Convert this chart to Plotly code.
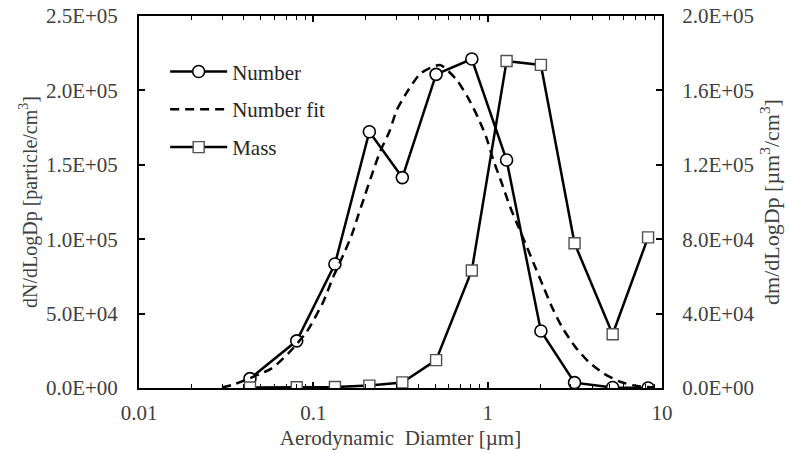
import plotly.graph_objects as go

# Stage mid-point diameters (µm)
diameters = [0.0433, 0.0803, 0.133, 0.2096, 0.324, 0.506, 0.811, 1.284, 2.02, 3.15, 5.21, 8.32]

# Number concentration dN/dLogDp [particle/cm3]
number = [6.3e3, 3.17e4, 8.33e4, 1.722e5, 1.414e5, 2.108e5, 2.211e5, 1.532e5, 3.83e4, 3.6e3, 300, 0]

# Mass concentration dm/dLogDp [µm3/cm3]
mass = [300, 400, 500, 1.3e3, 3.0e3, 1.5e4, 6.32e4, 1.758e5, 1.737e5, 7.78e4, 2.89e4, 8.1e4]

# Log-normal fit of the number distribution
fit_dp = [0.0299, 0.0346, 0.0577, 0.0719, 0.0917, 0.1141, 0.1302, 0.1486, 0.1661, 0.1812,
          0.198, 0.2163, 0.2414, 0.2729, 0.301, 0.3508, 0.4132, 0.5332, 0.6648, 0.775,
          0.8843, 0.979, 1.078, 1.205, 1.344, 1.5, 1.676, 1.87, 2.087, 2.333, 2.661,
          3.172, 3.782, 4.61, 5.75, 7.17, 8.93]
fit_n = [300, 2.2e3, 1.32e4, 2.33e4, 3.78e4, 5.8e4, 7.48e4, 8.94e4, 1.028e5, 1.163e5,
         1.297e5, 1.431e5, 1.588e5, 1.722e5, 1.868e5, 2.003e5, 2.115e5, 2.171e5, 2.07e5, 1.947e5,
         1.813e5, 1.689e5, 1.532e5, 1.376e5, 1.218e5, 1.084e5, 9.5e4, 8.15e4, 6.81e4, 5.46e4, 4.12e4,
         2.78e4, 1.77e4, 9.9e3, 4.2e3, 1.3e3, 500]

# Axis ticks
x_ticks = [0.01, 0.1, 1, 10]
x_tick_text = ["0.01", "0.1", "1", "10"]
x_minor = [m * d for d in (0.01, 0.1, 1) for m in range(2, 10)]
y_ticks = [0, 5e4, 1e5, 1.5e5, 2e5, 2.5e5]
y_tick_text = ["0.0E+00", "5.0E+04", "1.0E+05", "1.5E+05", "2.0E+05", "2.5E+05"]
y2_ticks = [0, 4e4, 8e4, 1.2e5, 1.6e5, 2e5]
y2_tick_text = ["0.0E+00", "4.0E+04", "8.0E+04", "1.2E+05", "1.6E+05", "2.0E+05"]

FONT = "Liberation Serif, Times New Roman, serif"
TXT = "#404040"
FS = 21

fig = go.Figure()

fig.add_trace(go.Scatter(
    x=diameters, y=number, name="Number", mode="lines+markers",
    legendgroup="a",
    line=dict(color="black", width=2.5),
    marker=dict(symbol="circle", size=12, color="white", line=dict(color="black", width=1.6)),
))
fig.add_trace(go.Scatter(
    x=fit_dp, y=fit_n, name="Number fit", mode="lines",
    legendgroup="b",
    line=dict(color="black", width=2.5, dash="9px,6px", shape="spline", smoothing=0.6),
))
fig.add_trace(go.Scatter(
    x=diameters, y=mass, name="Mass", mode="lines+markers", yaxis="y2",
    legendgroup="c",
    line=dict(color="black", width=2.5),
    marker=dict(symbol="square", size=11, color="white", line=dict(color="#505050", width=1.4)),
))

fig.update_layout(
    width=790, height=453,
    margin=dict(l=139, r=128, t=16, b=65),
    paper_bgcolor="white", plot_bgcolor="white",
    font=dict(family=FONT, size=FS, color=TXT),
    showlegend=True,
    legend=dict(
        x=0.050, y=0.905, xanchor="left", yanchor="top",
        bgcolor="rgba(0,0,0,0)", itemwidth=57, tracegroupgap=7.5,
        font=dict(family=FONT, size=FS, color="#262626"),
    ),
    xaxis=dict(
        type="log", range=[-2, 1], automargin=False,
        tickmode="array", tickvals=x_ticks, ticktext=x_tick_text,
        ticks="inside", ticklen=6, tickwidth=1.5, tickcolor="black",
        minor=dict(tickmode="array", tickvals=x_minor, ticks="inside", ticklen=4,
                   tickwidth=1.2, tickcolor="black", showgrid=False),
        showline=True, linecolor="black", linewidth=2, mirror="ticks",
        showgrid=False, zeroline=False,
        tickfont=dict(family=FONT, size=FS, color=TXT),
        ticklabelstandoff=5,
        title=dict(text="Aerodynamic\u00a0 Diamter [µm]", standoff=6,
                   font=dict(family=FONT, size=FS, color=TXT)),
    ),
    yaxis=dict(
        range=[0, 2.5e5], automargin=False,
        tickmode="array", tickvals=y_ticks, ticktext=y_tick_text,
        ticks="inside", ticklen=6, tickwidth=1.5, tickcolor="black",
        showline=True, linecolor="black", linewidth=2,
        showgrid=False, zeroline=False,
        tickfont=dict(family=FONT, size=FS, color=TXT),
        ticklabelstandoff=15,
        title=dict(text="dN/dLogDp [particle/cm<sup>3</sup>]", standoff=3,
                   font=dict(family=FONT, size=20, color=TXT)),
    ),
    yaxis2=dict(
        range=[0, 2.0e5], overlaying="y", side="right", automargin=False,
        tickmode="array", tickvals=y2_ticks, ticktext=y2_tick_text,
        ticks="inside", ticklen=6, tickwidth=1.5, tickcolor="black",
        showline=True, linecolor="black", linewidth=2,
        showgrid=False, zeroline=False,
        tickfont=dict(family=FONT, size=FS, color=TXT),
        ticklabelstandoff=14,
        title=dict(text="dm/dLogDp [µm<sup>3</sup>/cm<sup>3</sup>]", standoff=10,
                   font=dict(family=FONT, size=22, color=TXT)),
    ),
)

fig.write_html("out.html")
